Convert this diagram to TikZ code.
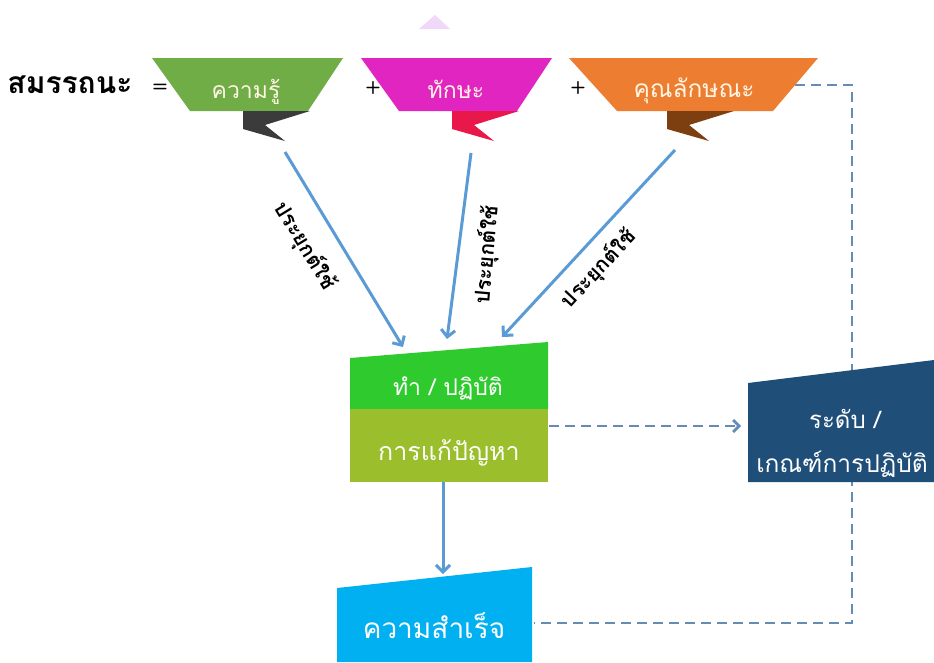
\documentclass[tikz,border=0pt]{standalone}
\usepackage{fontspec}
\newfontfamily\thai[Script=Thai]{Loma}
\usetikzlibrary{arrows.meta}
\definecolor{bgreen}{RGB}{112,173,71}
\definecolor{bmag}{RGB}{225,37,192}
\definecolor{borange}{RGB}{237,125,49}
\definecolor{tdark}{RGB}{59,59,59}
\definecolor{tred}{RGB}{232,25,74}
\definecolor{tbrown}{RGB}{125,62,16}
\definecolor{mgreen}{RGB}{46,202,46}
\definecolor{molive}{RGB}{154,190,44}
\definecolor{navy}{RGB}{31,78,121}
\definecolor{sky}{RGB}{0,176,240}
\definecolor{arrblue}{RGB}{91,155,213}
\definecolor{dashblue}{RGB}{100,140,182}
\definecolor{lav}{RGB}{242,216,248}
\definecolor{cream}{RGB}{255,246,228}
\tikzset{
  arr/.style={draw=arrblue,line width=3pt,-{Straight Barb[length=7pt,width=14pt]}},
  dashln/.style={draw=dashblue,line width=2.8pt,dash pattern=on 10pt off 6pt},
  bantext/.style={text=cream,font=\thai\fontsize{23}{27}\selectfont,anchor=base,inner sep=0pt},
  boxtext/.style={text=white,font=\thai\fontsize{23}{27}\selectfont,anchor=base,inner sep=0pt},
  lbl/.style={text=black,font=\thai\bfseries\fontsize{21}{24}\selectfont,inner sep=0pt},
  sym/.style={text=black,font=\sffamily\bfseries\fontsize{18}{20}\selectfont,inner sep=0pt}
}
\begin{document}
\begin{tikzpicture}[x=1pt,y=-1pt]
\useasboundingbox[fill=white] (0,0) rectangle (934,662);
% faint triangle
\fill[lav] (419,29) -- (435,15) -- (450,29) -- cycle;
% dashed feedback path (behind boxes)
\coordinate (orangeR) at (795,85);
\coordinate (cornerTR) at (852,85);
\coordinate (cornerBR) at (852,623);
\coordinate (succR) at (534,623);
\draw[dashln] (orangeR) -- (cornerTR) -- (cornerBR) -- (succR);
% banners
\fill[bgreen] (152,58) -- (343,58) -- (308,111) -- (190,111) -- cycle;
\fill[tdark] (243,111) -- (310,111) -- (265,125) -- (285,141) -- (243,129) -- cycle;
\fill[bmag] (361,58) -- (552,58) -- (517,111) -- (399,111) -- cycle;
\fill[tred] (452,111) -- (519,111) -- (474,125) -- (494,141) -- (452,129) -- cycle;
\fill[borange] (569,58) -- (818,58) -- (773,111) -- (617,111) -- cycle;
\fill[tbrown] (667,111) -- (734,111) -- (689,125) -- (709,141) -- (667,129) -- cycle;
\node[bantext] (know) at (246,98) {ความรู้};
\node[bantext] (skill) at (456,98) {ทักษะ};
\node[bantext,font=\thai\fontsize{24.5}{28}\selectfont] (attr) at (694,97) {คุณลักษณะ};
\node[text=black,font=\thai\bfseries\fontsize{30}{34}\selectfont,anchor=base,inner sep=0pt] (title) at (70,93) {สมรรถนะ};
\node[sym] (eq) at (160,88) {=};
\node[sym] (plus1) at (373,88) {+};
\node[sym] (plus2) at (578,88) {+};
% middle box
\fill[mgreen] (350,358) -- (548,342) -- (548,409) -- (350,409) -- cycle;
\fill[molive] (350,409) rectangle (548,482);
\node[boxtext] (doit) at (448,395) {ทำ / ปฏิบัติ};
\node[boxtext,font=\thai\fontsize{25}{29}\selectfont] (solve) at (449,460) {การแก้ปัญหา};
% navy box
\fill[navy] (748,383) -- (934,360) -- (934,482) -- (748,482) -- cycle;
\node[boxtext,font=\thai\fontsize{24}{28}\selectfont] (lvl1) at (845,428) {ระดับ /};
\node[boxtext,font=\thai\fontsize{24.5}{28}\selectfont] (lvl2) at (842,472) {เกณฑ์การปฏิบัติ};
% success box
\fill[sky] (337,588) -- (532,567) -- (532,662) -- (337,662) -- cycle;
\node[boxtext,font=\thai\fontsize{28}{32}\selectfont] (succ) at (434,638) {ความสำเร็จ};
% coordinates for connectors
\coordinate (s1) at (285,152);
\coordinate (e1) at (403,347);
\coordinate (s2) at (471,153);
\coordinate (e2) at (447,339);
\coordinate (s3) at (675,150);
\coordinate (e3) at (502,337);
\coordinate (midB) at (443,482);
\coordinate (succT) at (443,574);
\coordinate (midR) at (549,426);
\coordinate (navyL) at (741,426);
\draw[arr] (s1) -- (e1);
\draw[arr] (s2) -- (e2);
\draw[arr] (s3) -- (e3);
\draw[arr] (midB) -- (succT);
\draw[dashln,-{Straight Barb[length=6pt,width=12pt]}] (midR) -- (navyL);
% labels
\node[lbl,rotate=-58.6] (l1) at (305,246) {ประยุกต์ใช้};
\node[lbl,rotate=85] (l2) at (487,255) {ประยุกต์ใช้};
\node[lbl,rotate=47] (l3) at (599,269) {ประยุกต์ใช้};
\end{tikzpicture}
\end{document}
